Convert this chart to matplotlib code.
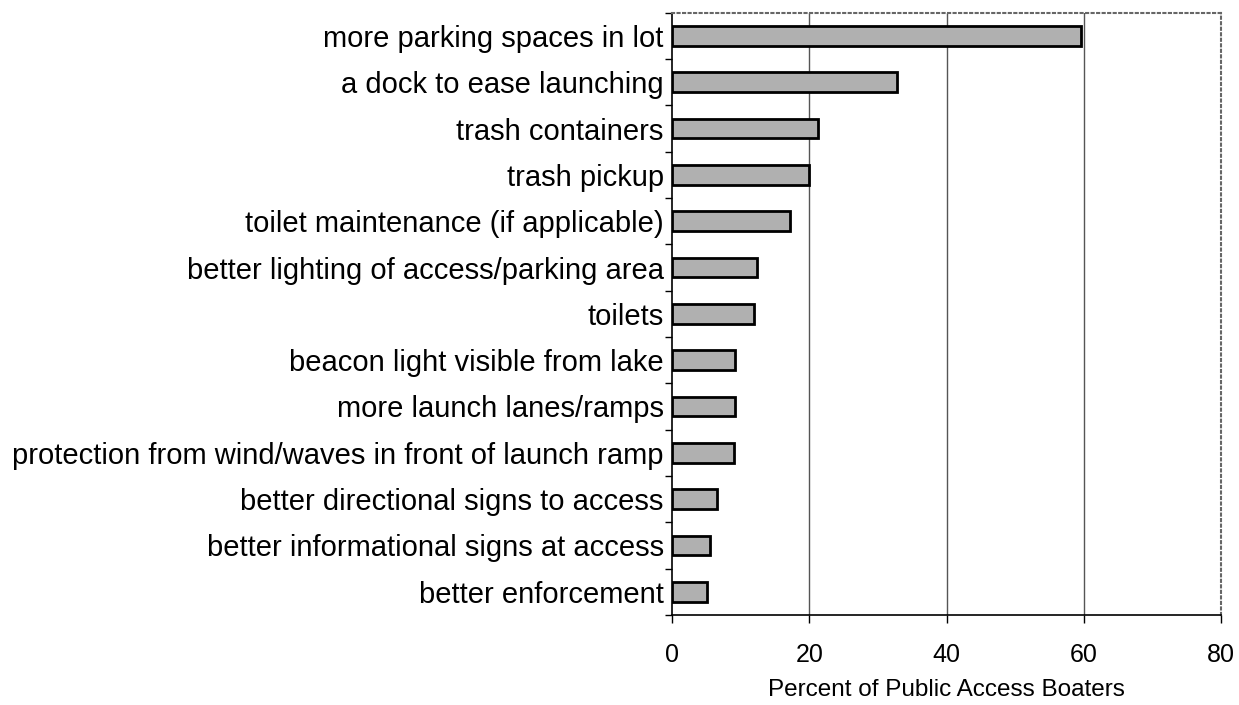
import numpy as np
import matplotlib.pyplot as plt
from matplotlib.ticker import FixedLocator

plt.rcParams['font.family'] = ['Liberation Sans', 'DejaVu Sans']

categories = [
    "more parking spaces in lot",
    "a dock to ease launching",
    "trash containers",
    "trash pickup",
    "toilet maintenance (if applicable)",
    "better lighting of access/parking area",
    "toilets",
    "beacon light visible from lake",
    "more launch lanes/ramps",
    "protection from wind/waves in front of launch ramp",
    "better directional signs to access",
    "better informational signs at access",
    "better enforcement",
]
percent = [59.6, 32.8, 21.3, 19.9, 17.2, 12.4, 12.0, 9.2, 9.2, 9.1, 6.6, 5.5, 5.1]
x_ticks = [0, 20, 40, 60, 80]

fig = plt.figure(figsize=(12.39, 7.05), dpi=100)
ax = fig.add_axes([0.5424, 0.1277, 0.9855 - 0.5424, 0.982 - 0.1277])

y = np.arange(len(categories))
ax.barh(y, percent, height=0.42, color='#b0b0b0', edgecolor='black', linewidth=2, zorder=3)

ax.set_xlim(0, 80)
ax.set_ylim(len(categories) - 0.5, -0.5)
ax.set_xticks(x_ticks)
ax.set_yticks(y)
ax.set_yticklabels(categories)
ax.yaxis.set_minor_locator(FixedLocator(np.arange(-0.5, len(categories), 1.0)))
ax.tick_params(axis='y', which='major', length=0, pad=6, labelsize=21)
ax.tick_params(axis='y', which='minor', length=5, width=1, direction='out')
ax.tick_params(axis='x', length=6, width=1, direction='out', pad=14, labelsize=18)

for v in x_ticks[1:-1]:
    ax.axvline(v, color='#555555', linewidth=1, zorder=1)

ax.spines['left'].set_linewidth(1.2)
ax.spines['bottom'].set_linewidth(1.2)
for side in ['top', 'right']:
    ax.spines[side].set_linestyle(':')
    ax.spines[side].set_color('#666666')
    ax.spines[side].set_linewidth(1.5)

ax.set_xlabel("Percent of Public Access Boaters", fontsize=17.5, labelpad=9)

fig.savefig("out.png", dpi=100)
